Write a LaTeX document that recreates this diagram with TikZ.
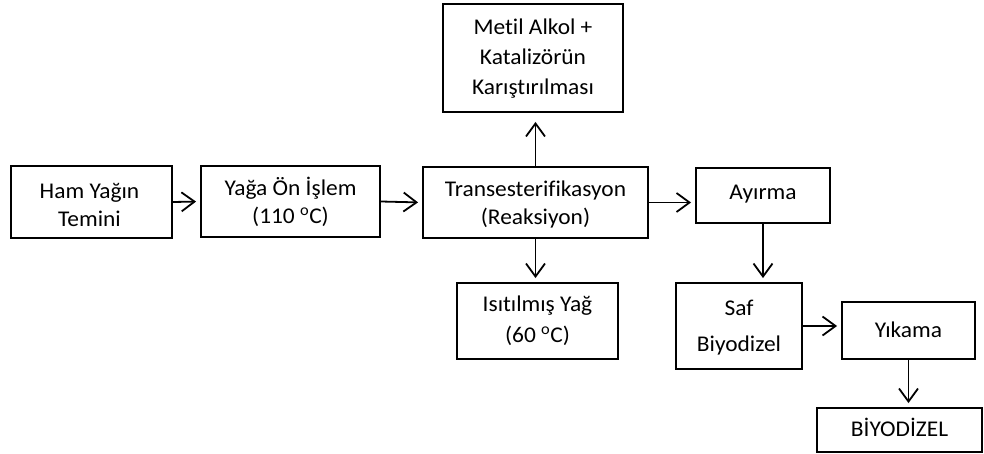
\documentclass[tikz,border=0pt]{standalone}
\usepackage{fontspec}
\setmainfont[RawFeature={-liga},FakeStretch=1.04]{Carlito}
\usetikzlibrary{arrows.meta,calc}
\begin{document}
\begin{tikzpicture}[x=1pt,y=-1pt,
  box/.style={draw=black,line width=1.9pt,inner sep=0pt},
  txt/.style={anchor=base,inner sep=0pt,font=\fontsize{22.5}{28}\selectfont},
  conn/.style={line width=1.8pt,shorten >=4pt,-{Straight Barb[length=13pt,width=19pt,line width=1.8pt]}}]
\useasboundingbox (0,0) rectangle (984,454);
\node[box,minimum width=161,minimum height=72] (ham) at (91.5,202) {};
\node[box,minimum width=179,minimum height=71] (yaga) at (290.5,201.5) {};
\node[box,minimum width=225,minimum height=71] (trans) at (535.5,202.5) {};
\node[box,minimum width=180,minimum height=108] (metil) at (533,58) {};
\node[box,minimum width=134,minimum height=55] (ayirma) at (763,195.5) {};
\node[box,minimum width=161,minimum height=76] (isit) at (537.5,321) {};
\node[box,minimum width=126,minimum height=86] (saf) at (739,326) {};
\node[box,minimum width=133,minimum height=57] (yikama) at (908.5,330.5) {};
\node[box,minimum width=165,minimum height=44] (biyo) at (899.5,430) {};
\node[txt] (ham1) at ($(ham.center)+(-2,-3)$) {Ham Yağın};
\node[txt] (ham2) at ($(ham.center)+(-2,24)$) {Temini};
\node[txt] (yaga1) at ($(yaga.center)+(0,-6)$) {Yağa Ön İşlem};
\node[txt] (yaga2) at ($(yaga.center)+(0,22)$) {(110 \textsuperscript{o}C)};
\node[txt] (trans1) at ($(trans.center)+(0,-6)$) {Transesterifikasyon};
\node[txt] (trans2) at ($(trans.center)+(0,22)$) {(Reaksiyon)};
\node[txt] (metil1) at ($(metil.center)+(0,-23)$) {Metil Alkol +};
\node[txt] (metil2) at ($(metil.center)+(0,7)$) {Katalizörün};
\node[txt] (metil3) at ($(metil.center)+(0,37)$) {Karıştırılması};
\node[txt] (ayirma1) at ($(ayirma.center)+(0,4)$) {Ayırma};
\node[txt] (isit1) at ($(isit.center)+(0,-10)$) {Isıtılmış Yağ};
\node[txt] (isit2) at ($(isit.center)+(0,21)$) {(60 \textsuperscript{o}C)};
\node[txt] (saf1) at ($(saf.center)+(0,-11)$) {Saf};
\node[txt] (saf2) at ($(saf.center)+(0,25)$) {Biyodizel};
\node[txt] (yikama1) at ($(yikama.center)+(0,7)$) {Yıkama};
\node[txt] (biyo1) at ($(biyo.center)+(0,6)$) {BİYODİZEL};
\draw[conn] (ham.east) -- (yaga.west);
\draw[conn] (yaga.east) -- (trans.west);
\draw[conn,shorten >=9pt] (trans.north) -- (trans.north |- metil.south);
\draw[conn] (trans.south) -- (trans.south |- isit.north);
\draw[conn] (trans.east) -- (trans.east -| ayirma.west);
\draw[conn] (ayirma.south) -- (ayirma.south |- saf.north);
\draw[conn] (saf.east) -- (saf.east -| yikama.west);
\draw[conn] (yikama.south) -- (yikama.south |- biyo.north);
\end{tikzpicture}
\end{document}
